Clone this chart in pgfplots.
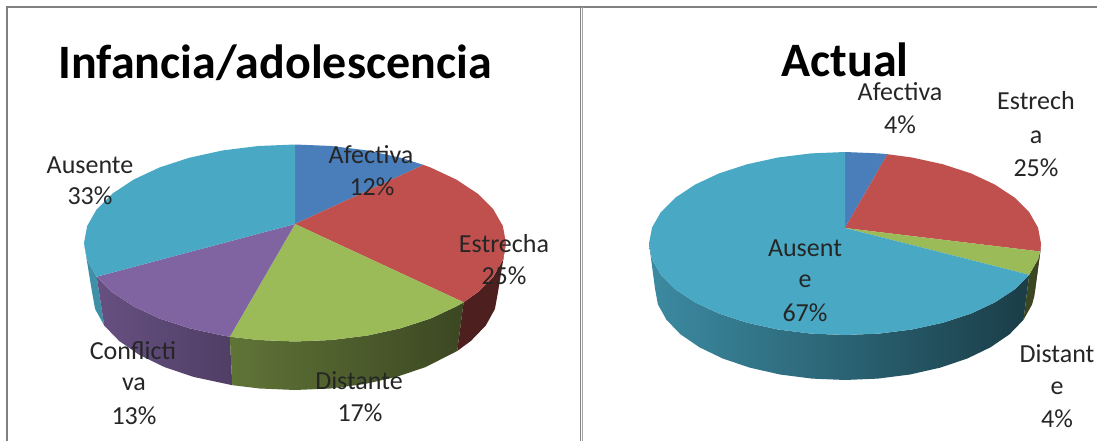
\documentclass[border=0pt]{standalone}
\usepackage{fontspec}
\setmainfont{Carlito}
\usepackage{pgfplots}
\pgfplotsset{compat=1.18}
\definecolor{cA}{HTML}{4A7EBB}
\definecolor{cE}{HTML}{C0504D}
\definecolor{cD}{HTML}{9BBB59}
\definecolor{cC}{HTML}{8064A2}
\definecolor{cU}{HTML}{49A9C5}
\definecolor{tx}{HTML}{262626}
\newcommand{\lab}[3]{\node[anchor=base,inner sep=0pt,text=tx,font=\fontsize{26}{30}\selectfont] at (axis cs:#1,#2) {#3};}
\begin{document}
\begin{tikzpicture}
\begin{axis}[
  scale only axis, width=1097pt, height=441pt,
  xmin=0, xmax=1097, ymin=0, ymax=441, y dir=reverse,
  axis lines=none, clip=true,
  every axis plot/.append style={no markers},
]
% canvas and frame
\addplot[draw=none,fill=white,forget plot] coordinates {(0,0)(1097,0)(1097,441)(0,441)} --cycle;
\addplot[draw=black!50,line width=1.5pt] coordinates {(7,441)(7,7)(1097,7)};
\addplot[draw=black!50,line width=1.2pt] coordinates {(580.5,7)(580.5,441)};
\addplot[draw=black!35,line width=1.5pt] coordinates {(582.5,7)(582.5,441)};

% ===== Infancia/adolescencia: side walls =====
\addplot[draw=none,fill=cU!85!black] coordinates {
 (84,243)(87.2,260.1)(96.7,276.7)(104.2,325.5)(95.1,309)(92,292)} --cycle;
\addplot[draw=none,left color=cC!80!black,right color=cC!62!black] coordinates {
 (229.8,336.7)(222.8,335.6)(189.5,328.3)(159.4,318.5)(133.4,306.3)(112.3,292.3)(96.7,276.7)
 (104.2,325.5)(119.2,341)(139.5,355)(164.5,367.1)(193.5,376.9)(232.3,385.2)} --cycle;
\addplot[draw=none,left color=cD!62!black,middle color=cD!42!black,right color=cD!38!black] coordinates {
 (463.6,302.3)(456.6,306.3)(430.6,318.5)(400.5,328.3)(367.2,335.6)(331.6,340)(295,341.5)(258.4,340)(229.8,336.7)
 (232.3,385.2)(259.7,388.5)(295,390)(330.3,388.5)(364.4,384.1)(396.5,376.9)(425.5,367.1)(457.2,351)} --cycle;
\addplot[draw=none,fill=cE!40!black] coordinates {
 (506,243)(502.8,260.1)(493.3,276.7)(477.7,292.3)(463.6,302.3)
 (457.2,351)(470.8,341)(485.8,325.5)(494.9,309)(498,292)} --cycle;

% ===== Infancia/adolescencia: top =====
\addplot[draw=none,fill=cA] coordinates {
 (295,224)(295,144.5)(331.6,146)(367.2,150.4)(400.5,157.7)(423.5,164.9)} --cycle;
\addplot[draw=none,fill=cE] coordinates {
 (295,224)(423.5,164.9)(430.6,167.5)(456.6,179.7)(477.7,193.7)(493.3,209.3)(502.8,225.9)(506,243)
 (502.8,260.1)(493.3,276.7)(477.7,292.3)(463.6,302.3)} --cycle;
\addplot[draw=none,fill=cD] coordinates {
 (295,224)(463.6,302.3)(456.6,306.3)(430.6,318.5)(400.5,328.3)(367.2,335.6)(331.6,340)(295,341.5)(258.4,340)(229.8,336.7)} --cycle;
\addplot[draw=none,fill=cC] coordinates {
 (295,224)(229.8,336.7)(222.8,335.6)(189.5,328.3)(159.4,318.5)(133.4,306.3)(112.3,292.3)(96.7,276.7)} --cycle;
\addplot[draw=none,fill=cU] coordinates {
 (295,224)(96.7,276.7)(87.2,260.1)(84,243)(87.2,225.9)(96.7,209.3)(112.3,193.7)(133.4,179.7)(159.4,167.5)
 (189.5,157.7)(222.8,150.4)(258.4,146)(295,144.5)} --cycle;

% ===== Actual: side walls =====
\addplot[draw=none,left color=cU!82!black,middle color=cU!50!black,right color=cU!36!black] coordinates {
 (1029.2,274.8)(1014.7,289.3)(995.1,302.3)(971,313.6)(943,322.7)(912,329.5)(879,333.6)(845,335)(811,333.6)(778,329.5)
 (747,322.7)(719,313.6)(694.9,302.3)(675.3,289.3)(660.8,274.8)(652,259.4)(649,243.5)
 (655,288.5)(657.9,304.4)(666.5,319.8)(680.5,334.3)(699.5,347.3)(722.9,358.6)(750,367.7)(780,374.5)(812,378.6)(845,380)
 (878,378.6)(910,374.5)(940,367.7)(967.1,358.6)(990.5,347.3)(1009.5,334.3)(1023.5,319.8)} --cycle;
\addplot[draw=none,fill=cD!38!black] coordinates {
 (1040.3,251.5)(1038,259.4)(1029.2,274.8)(1023.5,319.8)(1032.1,304.4)(1034.2,296.5)} --cycle;
\addplot[draw=none,fill=cE!40!black] coordinates {
 (1041,243.5)(1040.3,251.5)(1034.2,296.5)(1035,288.5)} --cycle;

% ===== Actual: top =====
\addplot[draw=none,fill=cA] coordinates {
 (845,228)(845,152)(879,153.4)(887.4,154.2)} --cycle;
\addplot[draw=none,fill=cE] coordinates {
 (845,228)(887.4,154.2)(912,157.5)(943,164.3)(971,173.4)(995.1,184.7)(1014.7,197.7)(1029.2,212.2)(1038,227.6)(1041,243.5)(1040.3,251.5)} --cycle;
\addplot[draw=none,fill=cD] coordinates {
 (845,228)(1040.3,251.5)(1038,259.4)(1029.2,274.8)} --cycle;
\addplot[draw=none,fill=cU] coordinates {
 (845,228)(1029.2,274.8)(1014.7,289.3)(995.1,302.3)(971,313.6)(943,322.7)(912,329.5)(879,333.6)(845,335)(811,333.6)(778,329.5)
 (747,322.7)(719,313.6)(694.9,302.3)(675.3,289.3)(660.8,274.8)(652,259.4)(649,243.5)(652,227.6)(660.8,212.2)(675.3,197.7)
 (694.9,184.7)(719,173.4)(747,164.3)(778,157.5)(811,153.4)(845,152)} --cycle;

% ===== text =====
\node[anchor=base,inner sep=0pt,font=\fontsize{48}{56}\selectfont\bfseries] at (axis cs:275,79) {Infancia/adolescencia};
\node[anchor=base,inner sep=0pt,font=\fontsize{48}{56}\selectfont\bfseries] at (axis cs:845,77) {Actual};
\lab{371}{164}{Afectiva}
\lab{372}{195}{12\%}
\lab{504}{252}{Estrecha}
\lab{504}{284}{25\%}
\lab{359}{389}{Distante}
\lab{360}{421}{17\%}
\lab{133}{359}{Conflicti}
\lab{134}{390}{va}
\lab{134}{424}{13\%}
\lab{90}{173}{Ausente}
\lab{90}{204}{33\%}
\lab{900}{101}{Afectiva}
\lab{900}{134}{4\%}
\lab{1036}{110}{Estrech}
\lab{1036}{143}{a}
\lab{1036}{176}{25\%}
\lab{805}{256}{Ausent}
\lab{805}{287}{e}
\lab{805}{321}{67\%}
\lab{1057}{362}{Distant}
\lab{1057}{394}{e}
\lab{1057}{427}{4\%}
\end{axis}
\end{tikzpicture}
\end{document}
